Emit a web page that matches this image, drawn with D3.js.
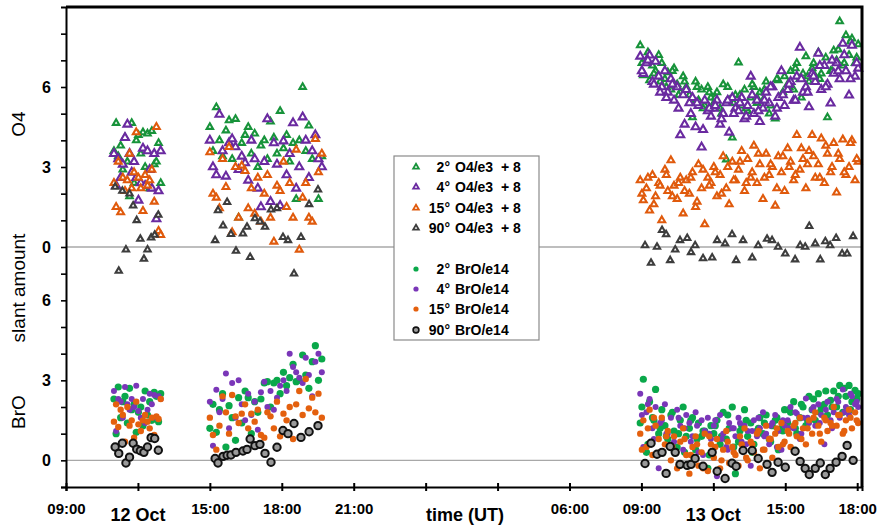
<!DOCTYPE html>
<html>
<head>
<meta charset="utf-8">
<script src="https://cdn.jsdelivr.net/npm/d3@7"></script>
<style>
  body { margin: 0; background: #fff; }
  svg { display: block; font-family: "Liberation Sans", Arial, sans-serif; }
</style>
</head>
<body>
<svg id="chart" width="880" height="525"></svg>
<script>
// times are hours since 12 Oct 00:00 UT
const timesA = [11.0, 11.09, 11.18, 11.28, 11.37, 11.46, 11.56, 11.65, 11.74, 11.84, 11.93,
  12.02, 12.12, 12.21, 12.3, 12.4, 12.49, 12.58, 12.68, 12.77, 12.86, 12.95];
const timesB = [15.0, 15.13, 15.27, 15.4, 15.53, 15.67, 15.8, 15.93, 16.07, 16.2, 16.33, 16.47,
  16.6, 16.73, 16.87, 17.0, 17.13, 17.27, 17.4, 17.53, 17.67, 17.8, 17.93, 18.07,
  18.2, 18.33, 18.47, 18.6, 18.73, 18.87, 19.0, 19.13, 19.27, 19.4, 19.53, 19.67];
const timesC = [32.95, 33.08, 33.21, 33.34, 33.46, 33.59, 33.72, 33.85,
  33.98, 34.1, 34.23, 34.36, 34.49, 34.62, 34.74, 34.87,
  35.0, 35.13, 35.26, 35.38, 35.51, 35.64, 35.77, 35.9,
  36.02, 36.15, 36.28, 36.41, 36.54, 36.66, 36.79, 36.92,
  37.05, 37.18, 37.3, 37.43, 37.56, 37.69, 37.82, 37.94,
  38.07, 38.2, 38.33, 38.46, 38.58, 38.71, 38.84, 38.97,
  39.1, 39.22, 39.35, 39.48, 39.61, 39.74, 39.86, 39.99,
  40.12, 40.25, 40.38, 40.5, 40.63, 40.76, 40.89, 41.02,
  41.14, 41.27, 41.4, 41.53, 41.66, 41.78, 41.91, 42.04];
// second scan sequence on 13 Oct, in between the first one
const timesD = [33.02, 33.27, 33.52, 33.78, 34.04, 34.29, 34.55, 34.8, 35.06, 35.32, 35.57, 35.83,
  36.08, 36.34, 36.6, 36.85, 37.11, 37.37, 37.62, 37.88, 38.13, 38.39, 38.65, 38.9,
  39.16, 39.42, 39.67, 39.93, 40.18, 40.44, 40.69, 40.95, 41.21, 41.46, 41.72, 41.98];
// zenith (90°) scans are less frequent
const zenithA = [11.05, 11.2, 11.35, 11.5, 11.65, 11.8, 11.95, 12.1, 12.25, 12.4, 12.55, 12.7, 12.85];
const zenithB = [15.22, 15.34, 15.55, 15.72, 15.88, 16.09, 16.38, 16.55, 16.68, 16.88,
  17.09, 17.3, 17.55, 17.8, 18.05, 18.26, 18.51, 18.8, 19.14, 19.51];
const zenithC = [33.15, 33.4, 33.65, 33.86, 34.03, 34.2, 34.41, 34.61, 34.91, 35.07, 35.24, 35.57,
  35.95, 36.16, 36.49, 36.78, 36.95, 37.24, 37.62, 37.87, 38.24, 38.45, 38.7, 39.0,
  39.41, 39.62, 39.83, 40.0, 40.25, 40.46, 40.67, 40.87, 41.12, 41.37, 41.58, 41.83];

// O4 slant columns / 1e3 (plotted with +8 offset)
const o4_2A = [3.6, 4.65, 3.4, 3.8, 2.9, 4.1, 3.2, 1.9, 4.65, 2.4, 4.0, 4.2, 3.5, 4.3, 3.0, 4.25, 2.2, 4.35, 3.1, 3.2, 3.9, 2.4];
const o4_4A = [3.5, 2.3, 3.3, 2.6, 3.1, 4.1, 4.6, 3.5, 2.8, 3.2, 2.6, 1.75, 2.4, 3.7, 2.3, 3.6, 2.9, 2.2, 3.5, 1.05, 2.1, 3.6];
const o4_15A = [2.4, 1.5, 3.2, 1.3, 2.6, 2.1, 2.5, 3.5, 2.2, 2.8, 4.3, 2.6, 2.2, 1.35, 2.7, 2.3, 2.5, 2.9, 1.7, 4.5, 0.6, 0.45];
const o4_90A = [2.25, -0.9, 2.1, -0.1, 2.0, 1.55, 1.0, 0.3, -0.45, -0.1, 0.35, 0.45, 1.2];

const o4_2B = [4.5, 3.6, 5.24, 4.0, 3.4, 4.37, 4.75, 3.3, 4.8, 1.1, 3.9, 4.2, 4.5, 3.5, 4.25, 3.0, 3.8, 4.0,
  3.3, 4.7, 4.1, 3.5, 5.1, 3.7, 4.2, 3.2, 3.9, 1.8, 4.0, 6.0, 3.6, 4.55, 3.3, 4.05, 1.8, 3.4];
const o4_4B = [4.0, 3.0, 2.7, 4.97, 3.6, 2.65, 3.9, 4.05, 3.75, 2.9, 3.4, 3.15, 2.5, 4.0, 3.3, 2.2, 1.5, 3.2,
  4.8, 1.7, 3.9, 3.1, 1.55, 3.97, 2.7, 3.5, 4.65, 2.2, 3.0, 4.87, 4.0, 2.6, 3.6, 4.2, 3.3, 3.0];
const o4_15B = [3.55, 2.0, 1.85, 1.45, 3.3, 2.25, 3.75, 0.55, 3.0, 1.1, 3.05, 2.85, 1.45, 2.2, 1.25, 2.6, 0.95, 2.0,
  2.7, 1.1, 0.2, 2.3, 2.1, 3.2, 1.5, 2.4, 1.1, 3.65, -0.1, 1.85, 2.4, 1.1, 0.95, 4.05, 2.8, 3.5];
const o4_90B = [0.25, 1.37, 0.8, 1.68, 0.48, -0.15, 0.5, 0.75, -0.38, 1.07, 0.95, 0.75, 1.4, 1.45, 0.37, 0.25, -1.0, 0.37, 1.6, 2.15];

const o4_2C = [7.56, 6.44, 7.0, 6.25, 6.8, 6.6, 7.2, 6.9,
  6.3, 6.55, 5.9, 6.7, 6.1, 5.8, 6.4, 6.0,
  5.7, 4.86, 6.2, 5.5, 5.9, 5.3, 6.0, 5.6,
  5.4, 5.8, 5.2, 6.1, 3.28, 5.5, 4.1, 5.7,
  6.92, 5.3, 5.9, 5.1, 5.6, 6.0, 5.4, 5.8,
  5.5, 6.2, 5.0, 6.0, 4.82, 6.25, 5.7, 6.4,
  6.1, 6.6, 5.9, 6.9, 6.3, 6.5, 7.15, 6.2,
  6.7, 6.4, 7.3, 6.5, 6.8, 4.86, 6.6, 7.37,
  7.0, 8.46, 6.8, 7.94, 7.2, 7.82, 6.9, 7.6];
const o4_4C = [7.15, 6.5, 6.9, 7.19, 6.2, 6.96, 6.4, 6.0,
  6.6, 5.8, 6.3, 5.5, 6.0, 4.2, 5.7, 5.9,
  5.4, 5.6, 4.5, 5.3, 3.74, 5.5, 5.1, 4.9,
  5.2, 5.5, 4.6, 5.0, 5.4, 4.3, 5.6, 5.2,
  5.1, 5.6, 4.8, 5.3, 6.4, 5.0, 5.5, 4.7,
  5.2, 5.8, 5.4, 6.0, 4.9, 5.6, 6.6, 5.3,
  5.9, 6.2, 5.5, 6.4, 7.48, 5.8, 6.0, 5.25,
  6.5, 6.2, 7.26, 5.9, 6.8, 6.1, 5.39, 6.51,
  6.9, 6.3, 7.63, 6.6, 5.69, 7.56, 6.4, 6.7];
const o4_15C = [2.5, 1.75, 2.2, 1.37, 2.7, 1.9, 2.4, 1.0,
  2.9, 2.1, 3.25, 2.3, 1.8, 2.6, 1.26, 2.5,
  2.0, 2.8, 1.5, 3.1, 2.2, 0.85, 2.6, 2.4,
  3.0, 1.9, 2.7, 3.4, 2.2, 1.6, 3.2, 2.5,
  2.9, 3.6, 2.1, 3.3, 2.6, 3.8, 2.4, 3.1,
  1.8, 3.5, 2.7, 3.0, 1.55, 3.4, 2.8, 2.1,
  3.7, 3.2, 2.5, 4.2, 2.9, 3.3, 2.2, 3.6,
  4.2, 2.6, 3.1, 4.07, 2.4, 3.5, 2.8, 3.9,
  2.04, 3.3, 4.03, 2.7, 3.0, 4.0, 2.5, 3.2];
const o4_2D = [6.9, 7.3, 6.5, 6.2, 6.0, 6.6, 5.7, 6.2, 5.5, 6.0, 5.2, 5.8,
  5.6, 5.0, 6.0, 5.4, 5.7, 5.2, 6.1, 5.5, 5.9, 5.3, 6.3, 5.8,
  6.0, 6.7, 5.6, 6.4, 6.9, 6.3, 7.1, 6.6, 7.4, 6.9, 7.7, 7.1];
const o4_4D = [6.6, 7.0, 6.1, 5.8, 5.6, 6.1, 5.2, 4.6, 5.0, 5.4, 4.4, 5.2,
  5.3, 4.8, 5.5, 5.0, 5.4, 4.9, 5.7, 5.1, 5.5, 6.0, 5.2, 5.7,
  6.1, 5.5, 6.3, 5.8, 6.4, 6.8, 6.0, 7.0, 6.6, 7.2, 6.3, 6.9];
const o4_15D = [2.0, 2.6, 1.6, 2.3, 2.7, 1.9, 2.4, 2.1, 2.6, 1.7, 2.9, 2.3,
  2.8, 2.0, 3.0, 2.5, 3.2, 2.4, 2.8, 3.5, 2.6, 3.1, 2.2, 3.4,
  3.0, 2.7, 3.7, 3.1, 3.4, 2.6, 3.8, 3.0, 3.5, 2.8, 3.9, 3.3];
const o4_90C = [0.06, -0.6, 0.0, 0.63, 0.47, -0.5, -0.1, 0.25, 0.33, -0.2, 0.06, -0.43,
  -0.4, 0.25, 0.13, 0.47, -0.5, 0.25, -0.4, 0.06, 0.3, 0.25, 0.0, -0.25,
  -0.47, 0.06, 0.0, 0.78, 0.13, -0.47, 0.21, 0.06, 0.33, -0.25, -0.25, 0.4];

// BrO slant columns / 1e14
const bro_2A = [2.3, 1.0, 2.75, 1.6, 2.2, 2.4, 1.4, 2.7, 1.9, 2.1, 1.05, 1.8, 2.0, 1.3, 2.6, 1.7, 2.2, 1.5, 2.55, 2.4, 1.45, 2.5];
const bro_4A = [2.6, 1.1, 2.3, 2.2, 1.6, 2.75, 2.1, 1.9, 2.3, 2.0, 2.8, 1.85, 1.6, 2.3, 1.4, 1.9, 2.5, 2.1, 2.45, 1.6, 2.4, 2.3];
const bro_15A = [1.45, 2.1, 1.25, 1.9, 1.7, 0.7, 2.0, 1.3, 1.5, 0.85, 2.2, 1.35, 1.1, 1.5, 1.7, 1.45, 1.2, 1.6, 0.95, 1.65, 1.55, 2.3];
const bro_90A = [0.5, 0.26, 0.64, -0.1, 0.12, 0.64, 0.42, 0.36, 0.3, 0.5, 0.85, 0.82, 0.38];

const bro_2B = [1.2, 2.1, 1.05, 1.9, 2.5, 0.5, 2.05, 1.6, 0.75, 2.35, 1.4, 2.6, 2.35, 1.0, 2.2, 1.8, 2.3, 2.9,
  2.95, 2.0, 2.9, 3.0, 2.5, 3.3, 2.8, 3.1, 3.6, 2.95, 3.0, 3.95, 3.2, 2.7, 3.7, 4.3, 3.0, 3.8];
const bro_4B = [2.2, 0.55, 2.65, 1.8, 2.3, 3.26, 1.2, 2.9, 1.6, 3.0, 2.1, 1.5, 2.5, 1.7, 2.2, 1.15, 2.55, 2.95,
  2.0, 2.6, 1.9, 2.35, 2.8, 3.0, 2.6, 4.0, 3.5, 3.3, 3.1, 2.9, 3.85, 3.2, 2.4, 3.7, 4.0, 3.3];
const bro_15B = [1.6, 0.95, 0.4, 1.3, 2.4, 1.8, 1.0, 2.45, 1.65, 1.4, 1.75, 2.1, 1.2, 1.75, 1.45, 1.9, 0.95, 0.85,
  1.8, 1.65, 1.2, 2.2, 0.9, 1.75, 1.5, 2.0, 0.8, 2.1, 2.6, 1.7, 3.05, 1.95, 2.35, 1.8, 2.5, 1.6];
const bro_90B = [0.07, -0.1, 0.15, 0.19, 0.2, 0.3, 0.35, 0.41, 0.8, 0.55, 0.6, 0.26, -0.07, 0.49, 1.12, 1.0, 1.38, 0.86, 1.07, 1.3];

const bro_2C = [1.4, 3.04, 0.3, 2.2, 1.6, 2.66, 1.0, 1.9,
  1.3, 0.8, 1.7, 1.1, 0.5, 1.5, 2.0, 0.9,
  1.2, 1.6, 0.4, 1.4, 0.9, 1.1, -0.3, 1.3,
  1.0, 1.5, 0.6, 1.8, 0.8, 1.2, 2.0, -0.5,
  0.7, 1.3, 1.9, 0.9, 1.4, 0.6, 1.1, 1.6,
  1.0, 1.7, 0.8, 1.3, 1.5, 0.4, 1.2, 1.9,
  1.4, 1.8, 2.2, 1.0, 1.6, 2.0, 1.3, 2.4,
  1.9, 1.5, 2.5, 1.99, 2.1, 1.7, 2.25, 2.6,
  2.0, 2.81, 1.8, 2.4, 2.81, 2.2, 2.62, 2.5];
const bro_4C = [2.5, 0.5, 1.8, 2.3, 1.2, 2.0, -0.3, 1.5,
  2.1, 1.0, 1.6, 0.7, 1.9, 1.3, 0.4, 1.7,
  1.4, 0.9, 1.8, 0.3, 1.5, 1.1, 1.6, 0.8,
  1.3, -0.6, 1.7, 1.0, 0.5, 1.4, 1.2, 0.9,
  1.6, 0.7, 1.3, 1.1, -0.2, 1.5, 0.9, 1.2,
  1.8, 1.0, 0.6, 1.4, 1.7, 1.1, 0.4, 1.3,
  1.5, 2.0, 1.2, 1.76, 0.8, 1.6, 2.32, 1.4,
  1.9, 1.3, 2.1, 1.7, 0.6, 2.2, 1.5, 1.8,
  2.3, 1.6, 2.66, 2.0, 1.7, 2.4, 2.1, 2.0];
const bro_15C = [1.0, 1.5, 0.5, 1.9, 0.2, 1.3, 0.8, 1.6,
  0.6, 1.1, 0.0, 0.9, -0.3, 0.7, 1.2, 0.2,
  -0.5, 0.5, 0.9, -0.2, 0.3, 1.0, -0.4, 0.6,
  0.1, 0.8, -0.3, 0.4, 1.1, -0.1, 0.5, 0.2,
  -0.2, 0.6, 1.2, 0.0, 0.7, 0.3, 1.0, -0.3,
  0.4, 1.3, 0.8, 0.1, 1.0, 0.5, 1.4, 0.7,
  1.1, 0.5, 1.3, 0.9, 1.6, 1.2, 0.6, 1.5,
  1.0, 1.8, 1.3, 0.7, 1.6, 1.1, 1.4, 2.0,
  1.3, 1.7, 1.0, 1.5, 1.9, 1.2, 1.8, 1.4];
const bro_2D = [2.0, 0.6, 1.5, 1.2, 0.9, 1.8, 1.0, 0.3, 1.5, 0.8, 1.1, 0.2,
  1.3, 0.9, 1.7, 0.5, 1.1, 1.5, 0.3, 1.2, 1.4, 0.7, 1.6, 1.1,
  1.9, 1.2, 2.1, 1.5, 2.3, 1.8, 2.6, 2.0, 2.4, 2.7, 1.9, 2.3];
const bro_4D = [1.7, 2.1, 0.8, 1.4, 1.0, 0.5, 1.6, 1.2, 0.7, 1.3, 0.2, 1.0,
  1.5, 0.8, 0.4, 1.2, 1.4, 0.6, 1.1, 1.6, 0.9, 1.3, 0.5, 1.5,
  1.2, 1.8, 1.0, 1.6, 2.0, 1.4, 1.9, 1.2, 2.2, 1.8, 2.5, 2.2];
const bro_15D = [0.4, 1.2, 1.6, 0.3, 0.9, 0.5, -0.2, 0.8, 0.2, 0.6, -0.3, 0.9,
  0.5, 0.0, 0.7, 0.3, 0.9, 0.1, 0.6, 1.1, 0.4, 0.8, 1.2, 0.6,
  1.0, 1.4, 0.8, 1.2, 1.6, 1.0, 1.5, 1.3, 1.7, 1.1, 1.6, 1.5];
const bro_90C = [-0.12, 0.64, 0.23, 0.3, -0.49, 0.52, 0.3, -0.15, -0.19, -0.15, 0.07, -0.22,
  0.3, -0.41, -0.68, -0.11, -0.22, 0.37, 0.37, 0.07, -0.15, -0.45, -0.07, -0.26,
  0.34, -0.04, -0.3, -0.53, -0.3, -0.1, -0.53, -0.3, -0.07, 0.15, 0.56, 0.0];

const o4Offset = 8;
const xTicks = [9, 12, 15, 18, 21, 24, 27, 30, 33, 36, 39, 42];
const xTickLabels = ["09:00", "", "15:00", "18:00", "21:00", "", "", "06:00", "09:00", "", "15:00", "18:00"];
const dayLabels = [{ t: 12, text: "12 Oct" }, { t: 36, text: "13 Oct" }];
const yTicks = [-1, 0, 1, 2, 3, 4, 5, 6, 7, 8, 9, 10, 11, 12, 13, 14, 15, 16];
const yTickLabels = { 0: "0", 3: "3", 6: "6", 8: "0", 11: "3", 14: "6" };

const offTimes = [timesA, timesB, timesC, timesD];
const zenTimes = [zenithA, zenithB, zenithC];
const series = [
  { label: "2° O4/e3  + 8", kind: "tri", color: "#17933a", size: 18, times: offTimes, values: [o4_2A, o4_2B, o4_2C, o4_2D], offset: o4Offset },
  { label: "4° O4/e3  + 8", kind: "tri", color: "#6a2aa0", size: 27, times: offTimes, values: [o4_4A, o4_4B, o4_4C, o4_4D], offset: o4Offset },
  { label: "15° O4/e3  + 8", kind: "tri", color: "#e05a0c", size: 20, times: offTimes, values: [o4_15A, o4_15B, o4_15C, o4_15D], offset: o4Offset },
  { label: "90° O4/e3  + 8", kind: "tri", color: "#3d3d3d", size: 17, times: zenTimes, values: [o4_90A, o4_90B, o4_90C], offset: o4Offset },
  { label: "2° BrO/e14", kind: "dot", color: "#0aa84a", r: 3.6, times: offTimes, values: [bro_2A, bro_2B, bro_2C, bro_2D], offset: 0 },
  { label: "4° BrO/e14", kind: "dot", color: "#7a36b8", r: 3.0, times: offTimes, values: [bro_4A, bro_4B, bro_4C, bro_4D], offset: 0 },
  { label: "15° BrO/e14", kind: "dot", color: "#e4600e", r: 3.2, times: offTimes, values: [bro_15A, bro_15B, bro_15C, bro_15D], offset: 0 },
  { label: "90° BrO/e14", kind: "ring", color: "#111", r: 3.7, times: zenTimes, values: [bro_90A, bro_90B, bro_90C], offset: 0 }
];

const svg = d3.select("#chart");
const margin = { left: 66, right: 18, top: 7, bottom: 38 };
const width = +svg.attr("width"), height = +svg.attr("height");

const x = d3.scaleLinear().domain([9, 42.2]).range([margin.left, width - margin.right]);
const y = d3.scaleLinear().domain([-1, 17]).range([height - margin.bottom, margin.top]);

// zero lines for O4 and BrO
svg.append("g").selectAll("line")
  .data([0, o4Offset])
  .enter().append("line")
  .attr("x1", x(9)).attr("x2", x(42.2))
  .attr("y1", d => y(d)).attr("y2", d => y(d))
  .attr("stroke", "#a8a8a8").attr("stroke-width", 1.3);

// points
const marks = svg.append("g");
series.forEach(s => {
  const pts = [];
  s.times.forEach((ts, k) => ts.forEach((t, i) => pts.push({ t, v: s.values[k][i] + s.offset })));
  const g = marks.append("g");
  if (s.kind === "tri") {
    g.selectAll("path").data(pts).enter().append("path")
      .attr("d", d3.symbol(d3.symbolTriangle, s.size))
      .attr("transform", d => `translate(${x(d.t)},${y(d.v)})`)
      .attr("fill", "#fff").attr("stroke", s.color).attr("stroke-width", 2.1);
  } else {
    g.selectAll("circle").data(pts).enter().append("circle")
      .attr("cx", d => x(d.t)).attr("cy", d => y(d.v)).attr("r", s.r)
      .attr("fill", s.kind === "ring" ? "#9a9a9a" : s.color)
      .attr("stroke", s.kind === "ring" ? s.color : "none")
      .attr("stroke-width", s.kind === "ring" ? 2 : 0);
  }
});

// axes
const xAxis = svg.append("g")
  .attr("transform", `translate(0,${y(-1)})`)
  .call(d3.axisBottom(x).tickValues(xTicks).tickSize(4).tickFormat((d, i) => xTickLabels[i]));
xAxis.select(".domain").attr("stroke", "#000").attr("stroke-width", 2);
xAxis.selectAll(".tick line").attr("y1", -4).attr("y2", 4).attr("stroke-width", 2);
xAxis.selectAll(".tick text").attr("y", 16).attr("dy", "0.71em")
  .attr("font-size", 15).attr("font-weight", "bold").attr("font-family", "Liberation Sans, Arial, sans-serif");

const yAxis = svg.append("g")
  .attr("transform", `translate(${x(9)},0)`)
  .call(d3.axisLeft(y).tickValues(yTicks).tickSize(5).tickFormat(d => yTickLabels[d] || ""));
yAxis.select(".domain").attr("stroke", "#000").attr("stroke-width", 2);
yAxis.selectAll(".tick line").attr("stroke-width", 1.6);
yAxis.selectAll(".tick text").attr("x", -15)
  .attr("font-size", 16).attr("font-weight", "bold").attr("font-family", "Liberation Sans, Arial, sans-serif");

// heavy frame top and right
svg.append("path")
  .attr("d", `M${x(9)},${y(17)}H${x(42.2)}V${y(-1)}`)
  .attr("fill", "none").attr("stroke", "#000").attr("stroke-width", 3);

// day labels and axis title
svg.selectAll(".day").data(dayLabels).enter().append("text")
  .attr("x", d => x(d.t)).attr("y", 521)
  .attr("text-anchor", "middle").attr("font-size", 18).attr("font-weight", "bold")
  .text(d => d.text);
svg.append("text").attr("x", 465).attr("y", 521).attr("text-anchor", "middle")
  .attr("font-size", 18).attr("font-weight", "bold").text("time (UT)");

// y titles
[{ text: "O4", cy: 124 }, { text: "slant amount", cy: 288 }, { text: "BrO", cy: 412 }].forEach(d => {
  svg.append("text")
    .attr("transform", `translate(25,${d.cy}) rotate(-90)`)
    .attr("text-anchor", "middle").attr("font-size", 19)
    .text(d.text);
});

// legend
const legend = svg.append("g");
legend.append("rect").attr("x", 394).attr("y", 156).attr("width", 145).attr("height", 184)
  .attr("fill", "#fff").attr("stroke", "#8a8a8a").attr("stroke-width", 1.2);
const rowY = [167, 187, 208, 228, 269, 289, 309, 330];
series.forEach((s, i) => {
  const ry = rowY[i];
  if (s.kind === "tri") {
    legend.append("path").attr("d", d3.symbol(d3.symbolTriangle, 14))
      .attr("transform", `translate(416,${ry})`)
      .attr("fill", "#fff").attr("stroke", s.color).attr("stroke-width", 1.8);
  } else {
    legend.append("circle").attr("cx", 416).attr("cy", ry).attr("r", s.kind === "ring" ? 2.9 : 2.6)
      .attr("fill", s.kind === "ring" ? "#9a9a9a" : s.color)
      .attr("stroke", s.kind === "ring" ? s.color : "none").attr("stroke-width", 1.6);
  }
  const parts = s.label.split(" ");
  legend.append("text").attr("x", 450).attr("y", ry).attr("dy", "0.35em")
    .attr("text-anchor", "end").attr("font-size", 14).attr("font-weight", "bold")
    .text(parts[0]);
  legend.append("text").attr("x", 455).attr("y", ry).attr("dy", "0.35em")
    .attr("font-size", 14).attr("font-weight", "bold")
    .style("white-space", "pre")
    .text(parts.slice(1).join(" "));
});
</script>
</body>
</html>
